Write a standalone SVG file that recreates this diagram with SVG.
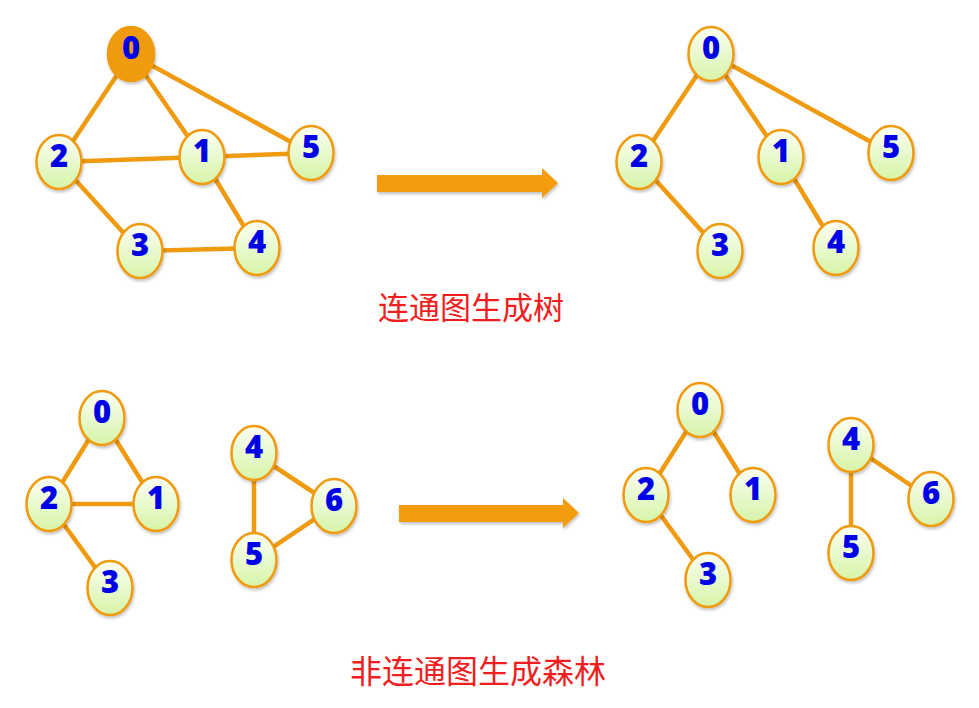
<svg xmlns="http://www.w3.org/2000/svg" width="979" height="708" viewBox="0 0 979 708">
<defs>
<linearGradient id="g" x1="0" y1="0" x2="0" y2="1">
<stop offset="0" stop-color="#FBFFF4"/>
<stop offset="1" stop-color="#D6F4A8"/>
</linearGradient>
<filter id="sh" x="-30%" y="-30%" width="160%" height="160%">
<feDropShadow dx="1" dy="2" stdDeviation="1.5" flood-color="#000" flood-opacity="0.25"/>
</filter>
</defs>
<style>
.e{stroke:#F09A10;stroke-width:4.5;fill:none;stroke-linecap:round}
.n ellipse{fill:url(#g);stroke:#F09A10;stroke-width:2.5;filter:url(#sh)}
.n ellipse.hl{fill:#F09A10;stroke:#F09A10}
.n text{font-family:"Open Sans","DejaVu Sans",sans-serif;font-weight:800;font-size:31px;fill:#0000E6;text-anchor:middle}
.t{font-family:"Noto Sans CJK SC",sans-serif;fill:#F01E1E;text-anchor:middle}
.ar{fill:#F39C0A;filter:url(#sh)}
</style>
<g id="connectors">
<line class="e" x1="131" y1="54" x2="59" y2="162"/>
<line class="e" x1="131" y1="54" x2="202" y2="157"/>
<line class="e" x1="131" y1="54" x2="311" y2="153"/>
<line class="e" x1="59" y1="162" x2="202" y2="157"/>
<line class="e" x1="202" y1="157" x2="311" y2="153"/>
<line class="e" x1="59" y1="162" x2="140" y2="251"/>
<line class="e" x1="202" y1="157" x2="257" y2="248"/>
<line class="e" x1="140" y1="251" x2="257" y2="248"/>
<line class="e" x1="711" y1="54" x2="639" y2="162"/>
<line class="e" x1="711" y1="54" x2="781" y2="157"/>
<line class="e" x1="711" y1="54" x2="891" y2="153"/>
<line class="e" x1="639" y1="162" x2="720" y2="251"/>
<line class="e" x1="781" y1="157" x2="836" y2="248"/>
<line class="e" x1="102" y1="418" x2="49" y2="504"/>
<line class="e" x1="102" y1="418" x2="156" y2="504"/>
<line class="e" x1="49" y1="504" x2="156" y2="504"/>
<line class="e" x1="49" y1="504" x2="110" y2="588"/>
<line class="e" x1="254" y1="453" x2="254" y2="560"/>
<line class="e" x1="254" y1="453" x2="334" y2="506"/>
<line class="e" x1="254" y1="560" x2="334" y2="506"/>
<line class="e" x1="700" y1="410" x2="646" y2="495"/>
<line class="e" x1="700" y1="410" x2="753" y2="495"/>
<line class="e" x1="646" y1="495" x2="708" y2="580"/>
<line class="e" x1="851" y1="445" x2="851" y2="553"/>
<line class="e" x1="851" y1="445" x2="931" y2="499"/>
</g>
<g id="a1-0" class="n"><ellipse class="hl" cx="131" cy="54" rx="23" ry="27"/><text x="131" y="59">0</text></g>
<g id="a1-2" class="n"><ellipse cx="59" cy="162" rx="22.5" ry="27"/><text x="59" y="167">2</text></g>
<g id="a1-1" class="n"><ellipse cx="202" cy="157" rx="22.5" ry="27"/><text x="202" y="162">1</text></g>
<g id="a1-5" class="n"><ellipse cx="311" cy="153" rx="22.5" ry="27"/><text x="311" y="158">5</text></g>
<g id="a1-3" class="n"><ellipse cx="140" cy="251" rx="22.5" ry="27"/><text x="140" y="256">3</text></g>
<g id="a1-4" class="n"><ellipse cx="257" cy="248" rx="22.5" ry="27"/><text x="257" y="253">4</text></g>
<g id="b1-0" class="n"><ellipse cx="711" cy="54" rx="22.5" ry="27"/><text x="711" y="59">0</text></g>
<g id="b1-2" class="n"><ellipse cx="639" cy="162" rx="22.5" ry="27"/><text x="639" y="167">2</text></g>
<g id="b1-1" class="n"><ellipse cx="781" cy="157" rx="22.5" ry="27"/><text x="781" y="162">1</text></g>
<g id="b1-5" class="n"><ellipse cx="891" cy="153" rx="22.5" ry="27"/><text x="891" y="158">5</text></g>
<g id="b1-3" class="n"><ellipse cx="720" cy="251" rx="22.5" ry="27"/><text x="720" y="256">3</text></g>
<g id="b1-4" class="n"><ellipse cx="836" cy="248" rx="22.5" ry="27"/><text x="836" y="253">4</text></g>
<g id="a2-0" class="n"><ellipse cx="102" cy="418" rx="22.5" ry="27"/><text x="102" y="423">0</text></g>
<g id="a2-2" class="n"><ellipse cx="49" cy="504" rx="22.5" ry="27"/><text x="49" y="509">2</text></g>
<g id="a2-1" class="n"><ellipse cx="156" cy="504" rx="22.5" ry="27"/><text x="156" y="509">1</text></g>
<g id="a2-3" class="n"><ellipse cx="110" cy="588" rx="22.5" ry="27"/><text x="110" y="593">3</text></g>
<g id="a2-4" class="n"><ellipse cx="254" cy="453" rx="22.5" ry="27"/><text x="254" y="458">4</text></g>
<g id="a2-6" class="n"><ellipse cx="334" cy="506" rx="22.5" ry="27"/><text x="334" y="511">6</text></g>
<g id="a2-5" class="n"><ellipse cx="254" cy="560" rx="22.5" ry="27"/><text x="254" y="565">5</text></g>
<g id="b2-0" class="n"><ellipse cx="700" cy="410" rx="22.5" ry="27"/><text x="700" y="415">0</text></g>
<g id="b2-2" class="n"><ellipse cx="646" cy="495" rx="22.5" ry="27"/><text x="646" y="500">2</text></g>
<g id="b2-1" class="n"><ellipse cx="753" cy="495" rx="22.5" ry="27"/><text x="753" y="500">1</text></g>
<g id="b2-3" class="n"><ellipse cx="708" cy="580" rx="22.5" ry="27"/><text x="708" y="585">3</text></g>
<g id="b2-4" class="n"><ellipse cx="851" cy="445" rx="22.5" ry="27"/><text x="851" y="450">4</text></g>
<g id="b2-6" class="n"><ellipse cx="931" cy="499" rx="22.5" ry="27"/><text x="931" y="504">6</text></g>
<g id="b2-5" class="n"><ellipse cx="851" cy="553" rx="22.5" ry="27"/><text x="851" y="558">5</text></g>
<g id="arrow1"><polygon class="ar" points="377,175 542,175 542,168 558,183 542,198 542,192 377,192"/></g>
<g id="arrow2"><polygon class="ar" points="399,505 563,505 563,498 579,513 563,528 563,522 399,522"/></g>
<text class="t" x="471" y="319" font-size="31">连通图生成树</text>
<text class="t" x="478" y="683" font-size="32">非连通图生成森林</text>
</svg>
